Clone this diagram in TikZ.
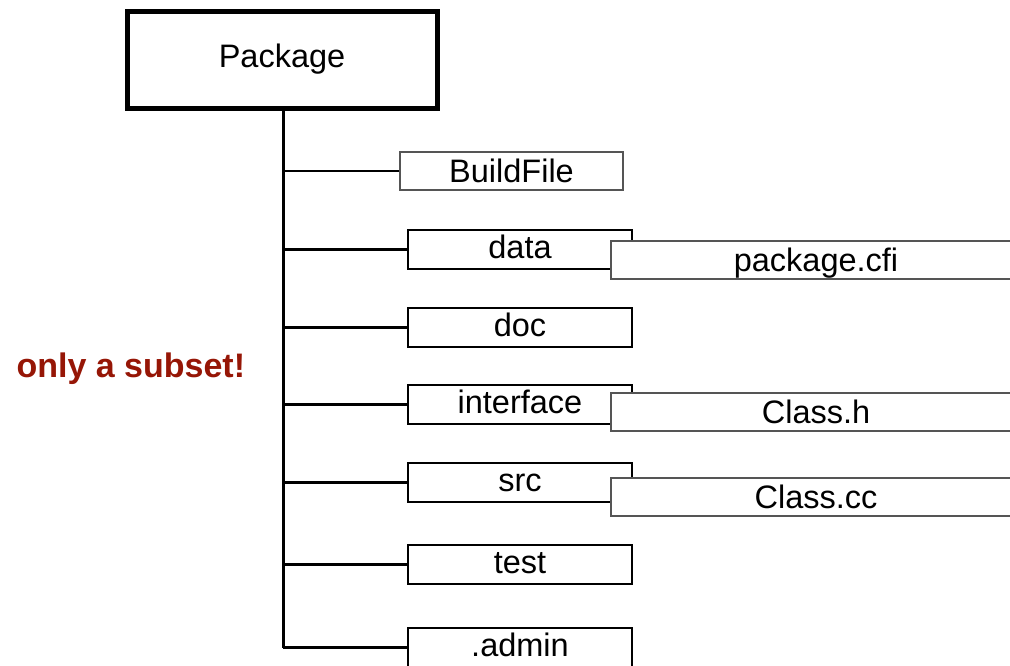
\documentclass[tikz,border=0pt]{standalone}
\usepackage{fontspec}
\setmainfont{Liberation Sans}
\definecolor{subsetred}{RGB}{150,22,6}
\definecolor{boxgray}{RGB}{85,85,85}
\tikzset{
  every node/.style={font=\fontsize{32.5}{38}\selectfont},
  pkgbox/.style={draw=black, line width=5pt, fill=white, minimum width=310pt, minimum height=97pt, inner sep=0pt},
  dirbox/.style={draw=black, line width=2.4pt, fill=white, minimum width=224pt, inner sep=0pt, text height=28pt, text depth=11pt},
  filebox/.style={draw=boxgray, line width=1.3pt, fill=white, minimum width=410pt, inner sep=0pt, text height=30pt, text depth=8pt},
  bfbox/.style={filebox, minimum width=223pt},
  trunk/.style={line width=3pt},
  branch/.style={line width=2.6pt},
}
\begin{document}
\begin{tikzpicture}[x=1pt, y=-1pt]
\useasboundingbox (0,0) rectangle (1010,665);
\clip (0,0) rectangle (1010,665);
\node[pkgbox] (pkg) at (282,59.5) {Package};

\node[bfbox, anchor=base] (build) at (511.5,182) {BuildFile};
\node[dirbox, anchor=base] (data) at (520,258) {data};
\node[dirbox, anchor=base] (doc) at (520,336) {doc};
\node[dirbox, anchor=base] (iface) at (520,413) {interface};
\node[dirbox, anchor=base] (src) at (520,491) {src};
\node[dirbox, anchor=base] (test) at (520,573) {test};
\node[dirbox, anchor=base] (admin) at (520,656) {.admin};

\node[filebox, anchor=base] (cfi) at (816,271) {package.cfi};
\node[filebox, anchor=base] (classh) at (816,423) {Class.h};
\node[filebox, anchor=base] (classcc) at (816,508) {Class.cc};

\coordinate (ttop) at (283,108);
\coordinate (tend) at (admin.west -| ttop);
\draw[trunk] (ttop) -- (tend);
\foreach \n in {build,data,doc,iface,src,test,admin}
  \draw[branch] (\n.west) -- (\n.west -| ttop);

\node[anchor=base west, text=subsetred, font=\fontsize{34}{40}\selectfont\bfseries] (subset) at (13,377) {only a subset!};
\end{tikzpicture}
\end{document}
